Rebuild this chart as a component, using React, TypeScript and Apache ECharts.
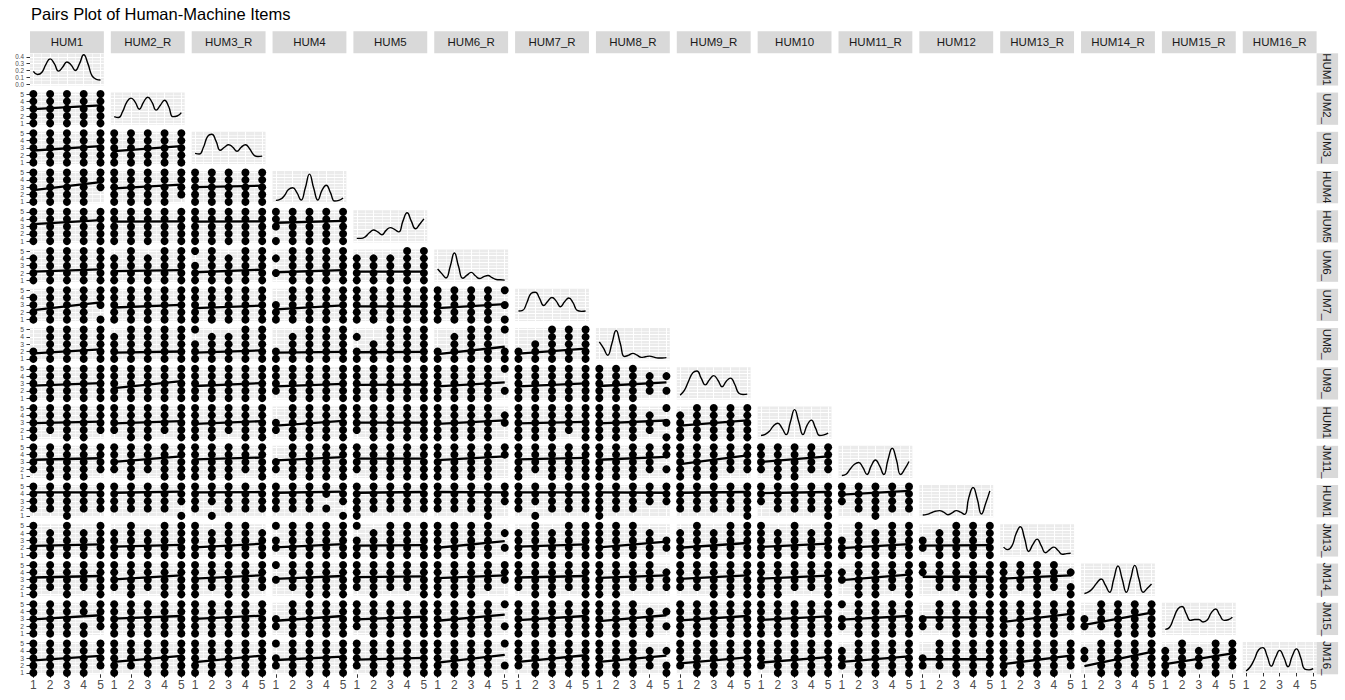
import React, { useEffect, useRef } from "react";
import * as echarts from "echarts";

// ---------- data ----------
const TITLE = "Pairs Plot of Human-Machine Items";
const VARS = ["HUM1", "HUM2_R", "HUM3_R", "HUM4", "HUM5", "HUM6_R", "HUM7_R", "HUM8_R", "HUM9_R", "HUM10", "HUM11_R", "HUM12", "HUM13_R", "HUM14_R", "HUM15_R", "HUM16_R"];
// right-hand strip labels as they are visible (clipped) in the reference
const ROW_STRIPS = ["HUM1", "UM2_", "UM3_", "HUM4", "HUM5", "UM6_", "UM7_", "UM8_", "UM9_", "HUM1", "JM11_", "HUM1", "JM13_", "JM14_", "JM15_", "JM16_"];
const LEVELS = [1, 2, 3, 4, 5];
const DENS_TICKS = [0, 0.1, 0.2, 0.3, 0.4];
const DENS_X = [1, 1.25, 1.5, 1.75, 2, 2.25, 2.5, 2.75, 3, 3.25, 3.5, 3.75, 4, 4.25, 4.5, 4.75, 5];

// diagonal density curves (HUM1 in density units, others relative heights)
const DENS_HUM1 = [0.185, 0.14, 0.17, 0.29, 0.37, 0.3, 0.19, 0.25, 0.325, 0.28, 0.2, 0.3, 0.43, 0.3, 0.12, 0.07, 0.06];
const DENS_HUM2 = [0.22, 0.19, 0.38, 0.69, 0.82, 0.69, 0.46, 0.69, 0.85, 0.69, 0.43, 0.59, 0.75, 0.54, 0.22, 0.24, 0.35];
const DENS_HUM3 = [0.3, 0.28, 0.5, 0.85, 0.92, 0.7, 0.4, 0.5, 0.58, 0.5, 0.37, 0.5, 0.58, 0.45, 0.25, 0.2, 0.21];
const DENS_HUM4 = [0.05, 0.08, 0.2, 0.4, 0.46, 0.3, 0.06, 0.45, 0.9, 0.45, 0.06, 0.38, 0.54, 0.3, 0.03, 0.05, 0.13];
const DENS_HUM5 = [0.09, 0.09, 0.14, 0.27, 0.36, 0.3, 0.21, 0.35, 0.44, 0.38, 0.3, 0.65, 0.92, 0.65, 0.4, 0.55, 0.72];
const DENS_HUM6 = [0.37, 0.22, 0.08, 0.45, 0.89, 0.45, 0.07, 0.17, 0.26, 0.15, 0.06, 0.12, 0.16, 0.09, 0.03, 0.02, 0.01];
const DENS_HUM7 = [0.28, 0.3, 0.55, 0.85, 0.89, 0.7, 0.46, 0.6, 0.72, 0.6, 0.42, 0.58, 0.7, 0.55, 0.3, 0.27, 0.28];
const DENS_HUM8 = [0.55, 0.35, 0.12, 0.5, 0.92, 0.5, 0.08, 0.12, 0.18, 0.12, 0.05, 0.07, 0.09, 0.06, 0.03, 0.03, 0.04];
const DENS_HUM9 = [0.1, 0.25, 0.55, 0.82, 0.88, 0.65, 0.43, 0.6, 0.73, 0.58, 0.37, 0.55, 0.65, 0.45, 0.16, 0.12, 0.13];
const DENS_HUM10 = [0.06, 0.1, 0.2, 0.38, 0.46, 0.3, 0.09, 0.5, 0.9, 0.5, 0.09, 0.4, 0.56, 0.3, 0.06, 0.08, 0.14];
const DENS_HUM11 = [0.04, 0.08, 0.25, 0.4, 0.46, 0.3, 0.07, 0.35, 0.54, 0.35, 0.07, 0.55, 0.92, 0.55, 0.07, 0.25, 0.49];
const DENS_HUM12 = [0.03, 0.05, 0.1, 0.15, 0.17, 0.12, 0.04, 0.1, 0.17, 0.12, 0.05, 0.6, 0.92, 0.55, 0.06, 0.4, 0.81];
const DENS_HUM13 = [0.26, 0.18, 0.3, 0.7, 0.92, 0.55, 0.12, 0.35, 0.52, 0.3, 0.08, 0.18, 0.26, 0.15, 0.03, 0.05, 0.06];
const DENS_HUM14 = [0.03, 0.08, 0.2, 0.38, 0.5, 0.3, 0.07, 0.5, 0.92, 0.5, 0.07, 0.5, 0.94, 0.5, 0.07, 0.2, 0.34];
const DENS_HUM15 = [0.14, 0.2, 0.5, 0.8, 0.88, 0.65, 0.43, 0.46, 0.46, 0.38, 0.44, 0.68, 0.8, 0.6, 0.43, 0.45, 0.53];
const DENS_HUM16 = [0.06, 0.2, 0.45, 0.75, 0.82, 0.55, 0.22, 0.5, 0.73, 0.5, 0.2, 0.55, 0.78, 0.5, 0.12, 0.1, 0.14];
const DENSITIES = [DENS_HUM1, DENS_HUM2, DENS_HUM3, DENS_HUM4, DENS_HUM5, DENS_HUM6, DENS_HUM7, DENS_HUM8, DENS_HUM9, DENS_HUM10, DENS_HUM11, DENS_HUM12, DENS_HUM13, DENS_HUM14, DENS_HUM15, DENS_HUM16];

// fitted line: value at x = 1 and at x = 5 (row = y variable, entries = x variable)
const LINE_AT_1 = [
  [],
  [2.95],
  [2.65, 2.55],
  [2.6, 2.85, 3.0],
  [3.3, 3.65, 3.65, 3.5],
  [2.2, 2.25, 2.1, 2.1, 2.2],
  [2.3, 2.65, 2.55, 2.4, 2.8, 2.55],
  [1.75, 1.85, 1.85, 1.85, 1.9, 1.65, 1.7],
  [2.7, 2.35, 2.65, 2.6, 2.8, 2.6, 2.6, 2.65],
  [2.95, 2.9, 2.85, 2.6, 3.0, 2.85, 2.9, 2.9, 2.6],
  [3.3, 3.0, 3.35, 3.2, 3.45, 3.25, 3.35, 3.3, 2.7, 3.0],
  [4.2, 4.15, 4.2, 4.15, 4.15, 4.25, 4.2, 4.2, 4.15, 4.1, 3.9],
  [2.25, 2.15, 2.05, 2.05, 2.3, 2.0, 2.15, 2.05, 2.0, 2.1, 1.95, 2.3],
  [3.3, 3.05, 3.15, 3.1, 3.35, 3.2, 3.3, 3.25, 3.1, 3.15, 2.95, 3.4, 3.15],
  [2.95, 3.05, 3.0, 2.75, 2.95, 2.75, 2.85, 2.7, 2.8, 2.85, 2.9, 3.2, 2.6, 2.2],
  [2.7, 2.5, 2.45, 2.75, 2.8, 2.4, 2.5, 2.5, 2.3, 2.4, 2.5, 2.85, 2.2, 1.9, 2.2],
];
const LINE_AT_5 = [
  [],
  [3.45],
  [3.25, 3.25],
  [3.7, 3.35, 3.2],
  [3.85, 3.7, 3.7, 3.75],
  [2.5, 2.4, 2.45, 2.4, 2.2],
  [3.35, 3.0, 2.9, 2.95, 2.8, 3.1],
  [2.3, 2.0, 2.15, 1.95, 1.95, 2.65, 2.4],
  [3.05, 3.3, 3.05, 2.95, 2.85, 3.15, 3.0, 3.15],
  [3.15, 3.2, 3.2, 3.25, 3.0, 3.3, 3.1, 3.3, 3.3],
  [3.5, 3.75, 3.6, 3.65, 3.45, 3.75, 3.55, 3.7, 3.9, 3.75],
  [4.2, 4.3, 4.25, 4.3, 4.25, 4.2, 4.2, 4.15, 4.25, 4.25, 4.4],
  [2.45, 2.4, 2.55, 2.5, 2.35, 2.9, 2.45, 2.85, 2.65, 2.55, 2.5, 2.35],
  [3.5, 3.6, 3.6, 3.5, 3.45, 3.6, 3.5, 3.6, 3.6, 3.55, 3.7, 3.4, 3.6],
  [3.5, 3.4, 3.45, 3.4, 3.3, 3.6, 3.4, 3.5, 3.4, 3.35, 3.4, 3.2, 3.7, 3.85],
  [3.3, 3.3, 3.35, 3.2, 3.05, 3.45, 3.4, 3.35, 3.1, 3.15, 3.25, 2.85, 3.35, 3.85, 3.65],
];
// response combinations (x level, y level) with no observation, e.g. "52" = x 5, y 2
const MISSING = [
  [],
  [""],
  ["", ""],
  ["52 51", "51", ""],
  ["", "", "", "12"],
  ["15", "15 35", "14 35", "15 13 11", "15 25 35"],
  ["15 52", "", "", "15 14", "", "54 52"],
  ["15 14 13", "15", "14 25 35", "15 14 13 25", "15 13 25 24", "15 14 13 25 54 53", "15 14 13 25 24"],
  ["", "", "", "11", "", "54 53 51", "", "45 41 55 53 51"],
  ["21 51", "11 41", "31", "15 14 11", "11", "55 52 51", "41", "45 41 54 52", "15"],
  ["11 51", "11 31", "41", "15 14 11", "11", "53 52 51", "21", "41 51 53", "41 51", "41 51 11"],
  ["11 21 41 51", "11 21 31 41 52", "11 31 41 51 22", "11 21 31 41 52 43", "21 31 41 51", "11 21 31 51 52", "11 31 41 51 22", "21 31 41 51 42 52", "11 31 41 21", "11 21 31 41 12", "11 21 41 51 12"],
  ["25 45", "15 35", "25 55", "14 11", "14 25", "55 53 51", "15 35", "45 55 54 51", "15 35", "25 45", "15 14 35", "15 14 11 25"],
  ["21 41", "11 31", "21 51", "14 12 11 21", "11 31 41", "51 52 41", "11 41", "31 51 55 41", "11 21", "31 41", "15 12 11 41", "13 12 11 21 31", "21 41 55 53"],
  ["43 51", "", "", "15 14 11", "11", "54 53 51", "", "45 55 53 51", "", "", "14 11", "15 14 11 21", "51", "15 14 11 21"],
  ["51", "21", "", "14 11", "11", "54 51 53", "11", "45 41 55 53", "11", "11", "15 11", "15 14 11 21", "51", "15 12 11", "15 35 31 51"],
];

// ---------- layout ----------
const FONT = "'Liberation Sans', Arial, Helvetica, sans-serif";
const L0 = 30;
const T0 = 53.3;
const PX = 80.85;
const PY = 39.25;
const PW = 73.85;
const PH = 32.25;
const STRIP_TOP = 31.3;
const STRIP_H = 22;
const RSTRIP_X = L0 + 15 * PX + PW;
const RSTRIP_W = 21.5;

function buildOption() {
  const grids: any[] = [];
  const xAxes: any[] = [];
  const yAxes: any[] = [];
  const series: any[] = [];
  const graphics: any[] = [];

  const gridLines = {
    splitLine: { show: true, lineStyle: { color: "#FFFFFF", width: 1.1 } },
    minorTick: { show: false, splitNumber: 2 },
    minorSplitLine: { show: true, lineStyle: { color: "#FFFFFF", width: 0.55 } },
  };

  for (let i = 0; i < 16; i++) {
    for (let j = 0; j <= i; j++) {
      const gi = grids.length;
      const diag = i === j;
      const bottom = i === 15;
      const first = j === 0;
      grids.push({
        left: L0 + j * PX,
        top: T0 + i * PY,
        width: PW,
        height: PH,
        show: true,
        backgroundColor: "#EBEBEB",
        borderWidth: 0,
        containLabel: false,
        outerBoundsMode: "none",
      });
      xAxes.push({
        gridIndex: gi,
        type: "value",
        min: 0.8,
        max: 5.2,
        axisLine: { show: false },
        axisTick: { show: bottom, length: 3.5, customValues: LEVELS, lineStyle: { color: "#333333", width: 1 } },
        axisLabel: {
          show: bottom,
          customValues: LEVELS,
          margin: 5,
          fontSize: 12,
          color: "#4D4D4D",
          fontFamily: FONT,
          hideOverlap: false,
          showMinLabel: true,
          showMaxLabel: true,
        },
        ...gridLines,
      });
      if (diag) {
        const isFirst = i === 0;
        const ticks = isFirst ? DENS_TICKS : [0, 0.2, 0.4, 0.6, 0.8];
        yAxes.push({
          gridIndex: gi,
          type: "value",
          min: isFirst ? -0.0215 : -0.045,
          max: isFirst ? 0.4515 : 1.0,
          axisLine: { show: false },
          axisTick: { show: first, length: 3.5, customValues: ticks, lineStyle: { color: "#333333", width: 1 } },
          axisLabel: {
            show: first,
            customValues: ticks,
            margin: 6,
            fontSize: 6.3,
            lineHeight: 6.3,
            color: "#4D4D4D",
            fontFamily: FONT,
            hideOverlap: false,
            showMinLabel: true,
            showMaxLabel: true,
            formatter: (v: number) => v.toFixed(1),
          },
          ...gridLines,
        });
        series.push({
          type: "line",
          xAxisIndex: gi,
          yAxisIndex: gi,
          data: DENS_X.map((x, k) => [x, DENSITIES[i][k]]),
          smooth: 0.5,
          symbol: "none",
          silent: true,
          lineStyle: { color: "#000000", width: 1.4 },
          z: 3,
        });
      } else {
        yAxes.push({
          gridIndex: gi,
          type: "value",
          min: 0.8,
          max: 5.2,
          axisLine: { show: false },
          axisTick: { show: first, length: 3.5, customValues: LEVELS, lineStyle: { color: "#333333", width: 1 } },
          axisLabel: {
            show: first,
            customValues: LEVELS,
            margin: 6,
            fontSize: 6.8,
            lineHeight: 6.8,
            color: "#4D4D4D",
            fontFamily: FONT,
            hideOverlap: false,
            showMinLabel: true,
            showMaxLabel: true,
          },
          ...gridLines,
        });
        const miss = new Set(MISSING[i][j].split(" ").filter(Boolean));
        const pts: number[][] = [];
        LEVELS.forEach((x) => {
          LEVELS.forEach((y) => {
            if (!miss.has(`${x}${y}`)) pts.push([x, y]);
          });
        });
        series.push({
          type: "scatter",
          xAxisIndex: gi,
          yAxisIndex: gi,
          data: pts,
          symbol: "circle",
          symbolSize: 8,
          silent: true,
          itemStyle: { color: "#000000", opacity: 1 },
          z: 3,
        });
        series.push({
          type: "line",
          xAxisIndex: gi,
          yAxisIndex: gi,
          data: [
            [1, LINE_AT_1[i][j]],
            [5, LINE_AT_5[i][j]],
          ],
          symbol: "none",
          silent: true,
          lineStyle: { color: "#000000", width: 2.3 },
          z: 4,
        });
      }
    }
  }

  // title
  graphics.push({
    type: "text",
    x: 31,
    y: 14,
    style: { text: TITLE, fontSize: 16.5, fontFamily: FONT, fill: "#000000", align: "left", verticalAlign: "middle" },
  });
  // top strips
  VARS.forEach((name, j) => {
    graphics.push({
      type: "rect",
      shape: { x: L0 + j * PX, y: STRIP_TOP, width: PW, height: STRIP_H },
      style: { fill: "#D9D9D9" },
      silent: true,
    });
    graphics.push({
      type: "text",
      x: L0 + j * PX + PW / 2,
      y: STRIP_TOP + STRIP_H / 2,
      style: { text: name, fontSize: 11.5, fontFamily: FONT, fill: "#1A1A1A", align: "center", verticalAlign: "middle" },
      silent: true,
    });
  });
  // right strips
  ROW_STRIPS.forEach((name, i) => {
    graphics.push({
      type: "rect",
      shape: { x: RSTRIP_X, y: T0 + i * PY, width: RSTRIP_W, height: PH },
      style: { fill: "#D9D9D9" },
      silent: true,
    });
    graphics.push({
      type: "text",
      x: RSTRIP_X + RSTRIP_W / 2,
      y: T0 + i * PY + PH / 2,
      rotation: -Math.PI / 2,
      style: { text: name, fontSize: 11.5, fontFamily: FONT, fill: "#1A1A1A", align: "center", verticalAlign: "middle" },
      silent: true,
    });
  });

  return {
    animation: false,
    backgroundColor: "#FFFFFF",
    grid: grids,
    xAxis: xAxes,
    yAxis: yAxes,
    series,
    graphic: graphics,
  };
}

export default function App() {
  const ref = useRef<HTMLDivElement>(null);
  useEffect(() => {
    if (!ref.current) return;
    const chart = echarts.init(ref.current, null, { renderer: "svg" });
    chart.setOption(buildOption() as any);
    return () => {
      chart.dispose();
    };
  }, []);
  return (
    <div
      ref={ref}
      style={{ position: "fixed", left: 0, top: 0, width: 1345, height: 700, background: "#FFFFFF" }}
    />
  );
}
